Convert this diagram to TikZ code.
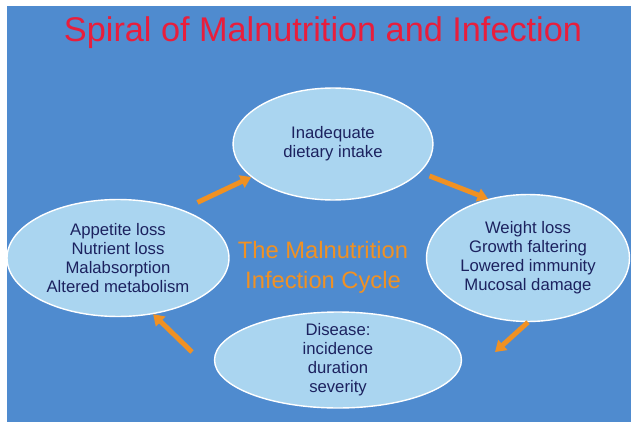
\documentclass[tikz,border=0pt]{standalone}
\usepackage{fontspec}
\setmainfont{Liberation Sans}
\usepackage{tikz}
\usetikzlibrary{shapes.geometric,arrows.meta}
\definecolor{slideblue}{RGB}{79,139,207}
\definecolor{cellblue}{RGB}{170,213,240}
\definecolor{inkblue}{RGB}{28,34,95}
\definecolor{cycleorange}{RGB}{240,145,35}
\definecolor{titlered}{RGB}{232,30,60}

\begin{document}
\begin{tikzpicture}[x=0.02cm,y=-0.02cm,
    cell/.style={ellipse,draw=white,line width=0.8pt,fill=cellblue,inner sep=0pt},
    txt/.style={align=center,text=inkblue,font=\fontsize{9.5}{10.8}\selectfont},
    flow/.style={cycleorange,line width=2.8pt,-{Triangle[length=6pt,width=7.5pt]}}]
    \useasboundingbox (0,0) rectangle (631,422);
    \fill[slideblue] (7,6) rectangle (631,422);
    \node[text=titlered,font=\fontsize{19.5}{22}\selectfont] (title) at (323,33) {Spiral of Malnutrition and Infection};
    \node[cell,minimum width=4cm,minimum height=2.24cm] (top) at (333,144) {};
    \node[cell,minimum width=4.44cm,minimum height=2.34cm] (left) at (118,258) {};
    \node[cell,minimum width=4.06cm,minimum height=2.54cm] (right) at (528,258) {};
    \node[cell,minimum width=4.94cm,minimum height=1.92cm] (bot) at (338,360) {};
    \node[txt] (toptxt) at (top) {Inadequate\\dietary intake};
    \node[txt] (lefttxt) at (left) {Appetite loss\\Nutrient loss\\Malabsorption\\Altered metabolism};
    \node[txt] (righttxt) at (right) {Weight loss\\Growth faltering\\Lowered immunity\\Mucosal damage};
    \node[txt] (bottxt) at (bot) {Disease:\\incidence\\duration\\severity};
    \node[align=center,text=cycleorange,font=\fontsize{13.5}{17}\selectfont] (cycle) at (323,267) {The Malnutrition\\Infection Cycle};
    \coordinate (c3) at (495,352);
    \coordinate (c4) at (192,352);
    \draw[flow,shorten <=9.6pt] (left.37) -- (top.202);
    \draw[flow,shorten <=5.7pt] (top.-18) -- (right.124);
    \draw[flow] (right.270) -- (c3);
    \draw[flow] (c4) -- (left.302);
\end{tikzpicture}
\end{document}
